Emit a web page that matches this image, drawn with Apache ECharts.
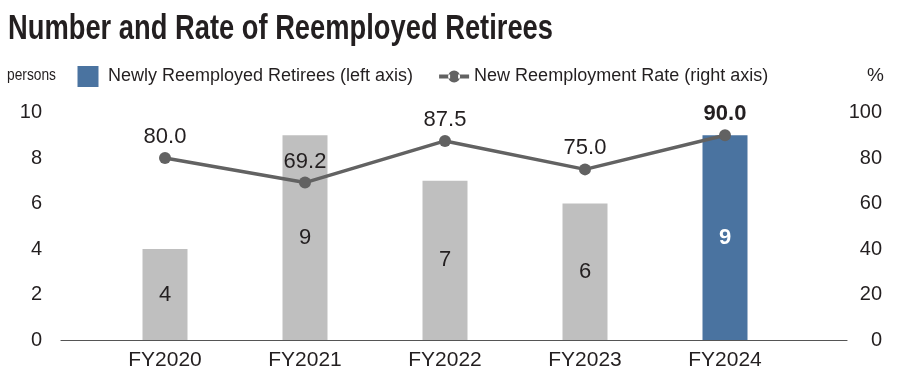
<!DOCTYPE html>
<html>
<head>
<meta charset="utf-8">
<script src="https://cdn.jsdelivr.net/npm/echarts@6/dist/echarts.min.js"></script>
<style>
html,body{margin:0;padding:0;background:#fff;}
#chart{width:900px;height:388px;}
</style>
</head>
<body>
<div id="chart"></div>
<script>
const titleText = "Number and Rate of Reemployed Retirees";
const categories = ["FY2020", "FY2021", "FY2022", "FY2023", "FY2024"];
const retirees = [4, 9, 7, 6, 9];
const rates = [80.0, 69.2, 87.5, 75.0, 90.0];
const leftTicks = [0, 2, 4, 6, 8, 10];
const rightTicks = [0, 20, 40, 60, 80, 100];
const barName = "Newly Reemployed Retirees (left axis)";
const lineName = "New Reemployment Rate (right axis)";
const leftUnit = "persons";
const rightUnit = "%";

const FONT = "'Liberation Sans', Arial, sans-serif";
const BLUE = "#4a73a0";
const GRAY = "#bfbfbf";
const LINE = "#626262";
const TXT = "#231f20";
const last = categories.length - 1;

// horizontal condensing factor to imitate the condensed typeface
function fitScale(text, font, targetWidth) {
  const ctx = document.createElement('canvas').getContext('2d');
  ctx.font = font;
  return targetWidth / ctx.measureText(text).width;
}
const titleFont = "bold 35px 'Liberation Sans'";
const titleScale = fitScale(titleText, titleFont, 545);
const unitFont = "17px 'Liberation Sans'";
const unitScale = fitScale(leftUnit, unitFont, 49);

const BAR_ICON = 'path://M0,0h21v21h-21z';
const LINE_ICON = 'path://M0,9h11v4h-11z M19,9h11v4h-11z M9,11a6,6 0 1,0 12,0a6,6 0 1,0 -12,0z';

const chart = echarts.init(document.getElementById('chart'), null, {renderer: 'canvas'});
chart.setOption({
  animation: false,
  backgroundColor: '#fff',
  graphic: [
    {type: 'text', x: 8, y: 12, scaleX: titleScale,
     style: {text: titleText, font: titleFont, fill: TXT}},
    {type: 'text', x: 7, y: 67, scaleX: unitScale,
     style: {text: leftUnit, font: unitFont, fill: TXT}},
    {type: 'text', x: 867, y: 66,
     style: {text: rightUnit, font: "19px 'Liberation Sans'", fill: TXT}}
  ],
  legend: {
    left: 72.5, top: 61,
    itemGap: 26,
    textStyle: {fontFamily: FONT, fontSize: 18, color: TXT},
    data: [
      {name: barName, icon: BAR_ICON, itemStyle: {color: BLUE}},
      {name: lineName, icon: LINE_ICON, itemStyle: {color: LINE}}
    ],
    itemWidth: 30, itemHeight: 21
  },
  grid: [
    {left: 95, right: 105, top: 112.5, bottom: 48},
    {left: 61, right: 53, top: 112.5, bottom: 48}
  ],
  xAxis: [
    {type: 'category', gridIndex: 0, data: categories,
     axisLine: {show: false}, axisTick: {show: false},
     axisLabel: {fontFamily: FONT, fontSize: 21, color: TXT, margin: 10}},
    {type: 'value', gridIndex: 1, min: 0, max: 1,
     axisLine: {show: true, lineStyle: {color: '#555', width: 1.2}},
     axisTick: {show: false}, axisLabel: {show: false}, splitLine: {show: false}}
  ],
  yAxis: [
    {type: 'value', gridIndex: 0, min: leftTicks[0], max: leftTicks[leftTicks.length - 1],
     interval: leftTicks[1] - leftTicks[0],
     axisLine: {show: false}, axisTick: {show: false}, splitLine: {show: false},
     axisLabel: {fontFamily: FONT, fontSize: 20, color: TXT, margin: 53}},
    {type: 'value', gridIndex: 0, position: 'right', min: rightTicks[0], max: rightTicks[rightTicks.length - 1],
     interval: rightTicks[1] - rightTicks[0],
     axisLine: {show: false}, axisTick: {show: false}, splitLine: {show: false},
     axisLabel: {fontFamily: FONT, fontSize: 20, color: TXT, margin: 87, align: 'right'}},
    {type: 'value', gridIndex: 1, min: 0, max: 1, show: false}
  ],
  series: [
    {
      name: barName, type: 'bar', xAxisIndex: 0, yAxisIndex: 0,
      barWidth: 45,
      itemStyle: {color: BLUE},
      data: retirees.map((v, i) => ({
        value: v,
        itemStyle: {color: i === last ? BLUE : GRAY},
        label: i === last ? {color: '#fff', fontWeight: 'bold'} : {}
      })),
      label: {show: true, position: 'inside', fontFamily: FONT, fontSize: 22, color: TXT}
    },
    {
      name: lineName, type: 'line', xAxisIndex: 0, yAxisIndex: 1,
      symbol: 'circle', symbolSize: 12,
      lineStyle: {color: LINE, width: 3.5},
      itemStyle: {color: LINE},
      data: rates.map((v, i) => ({
        value: v,
        label: i === last ? {fontWeight: 'bold'} : {}
      })),
      label: {show: true, position: 'top', distance: 4, fontFamily: FONT, fontSize: 22, color: TXT,
              formatter: p => p.value.toFixed(1)},
      z: 5
    }
  ]
});
</script>
</body>
</html>
